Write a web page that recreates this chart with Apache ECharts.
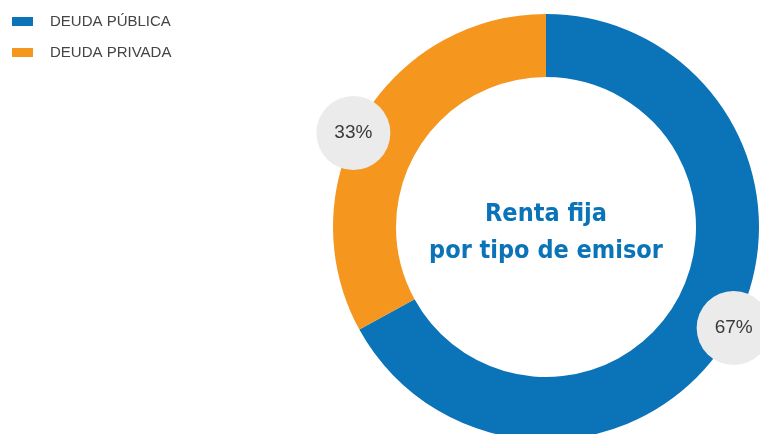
<!DOCTYPE html>
<html><head><meta charset="utf-8">
<script src="https://cdn.jsdelivr.net/npm/echarts@6/dist/echarts.min.js"></script>
<style>html,body{margin:0;padding:0;background:#fff}#c{width:760px;height:434px}</style>
</head><body><div id="c"></div>
<script>
const categories = ['DEUDA PÚBLICA', 'DEUDA PRIVADA'];
const values = [67, 33];
const colors = ['#0b73b8', '#f5961f'];
const titleLines = ['Renta fija', 'por tipo de emisor'];

const data = categories.map((n, i) => ({ name: n, value: values[i], itemStyle: { color: colors[i] } }));
const labelShift = [[0, -10], [-5, 17]];
const chart = echarts.init(document.getElementById('c'));
chart.setOption({
  animation: false,
  title: {
    text: titleLines.join('\n'),
    left: 546, top: 196, textAlign: 'center', padding: 0,
    textStyle: { fontFamily: 'DejaVu Sans Condensed', fontWeight: 'bold', fontSize: 25, lineHeight: 37, color: '#0b73b8' }
  },
  legend: {
    orient: 'vertical', left: 12, top: 14, padding: 0, itemWidth: 21, itemHeight: 9, itemGap: 16,
    icon: 'rect', data: categories,
    textStyle: { fontFamily: 'Liberation Sans', fontSize: 15, color: '#444', padding: [0, 0, 0, 12] }
  },
  series: [
    {
      type: 'pie', center: [546, 227], radius: [150, 213], startAngle: 90, clockwise: true,
      silent: true, label: { show: false }, labelLine: { show: false }, data: data
    },
    {
      type: 'pie', center: [546, 227], radius: [200, 230], startAngle: 90, clockwise: true,
      silent: true, itemStyle: { color: 'rgba(0,0,0,0)' },
      labelLine: { show: false },
      labelLayout: p => ({ dx: labelShift[p.dataIndex][0], dy: labelShift[p.dataIndex][1] }),
      label: {
        show: true, position: 'inside', formatter: p => p.value + '%',
        backgroundColor: '#ebebec', borderRadius: 37, width: 74, height: 74, lineHeight: 74,
        align: 'center', verticalAlign: 'middle', padding: 0,
        fontFamily: 'Liberation Sans', fontSize: 19, color: '#3a3a3a'
      },
      data: categories.map((n, i) => ({ name: n, value: values[i], itemStyle: { color: 'rgba(0,0,0,0)' } }))
    }
  ]
});
</script></body></html>
